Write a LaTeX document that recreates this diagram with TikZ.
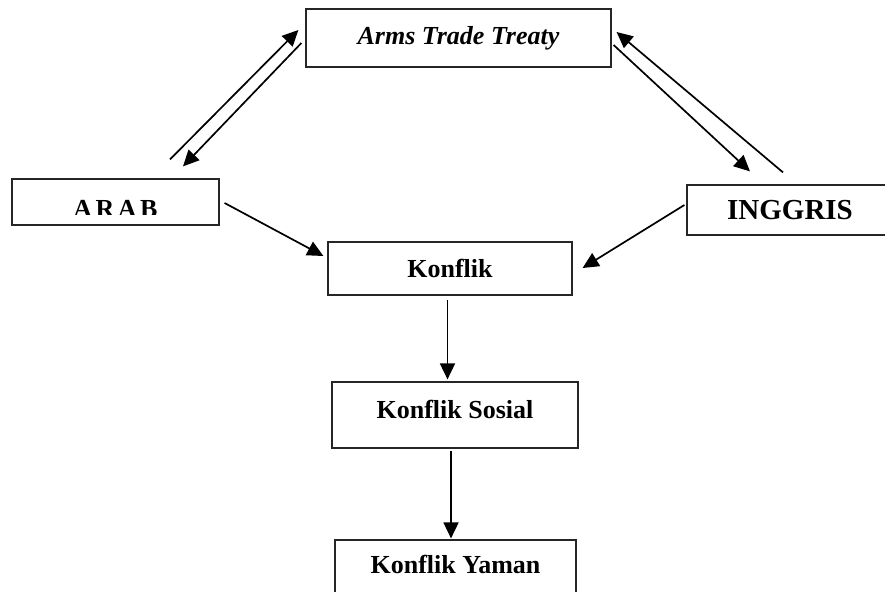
\documentclass[tikz,border=0pt]{standalone}
\usepackage{fontspec}
\setmainfont{Liberation Serif}
\usetikzlibrary{arrows.meta}

\tikzset{
    box/.style={draw=black!85, line width=1.2pt, inner sep=0pt,
        font=\fontsize{26}{30}\selectfont\bfseries},
    arr/.style={line width=1.7pt, -{Triangle[length=16pt, width=15pt]}},
}

\begin{document}
\begin{tikzpicture}[x=1pt, y=-1pt]
    \clip (0, 0) rectangle (885, 591);

    % kotak
    \node[box, minimum width=305, minimum height=58, font=\fontsize{26}{30}\selectfont\bfseries\itshape]
        (att) at (458.5, 38) {Arms Trade Treaty};
    \node[box, minimum width=207, minimum height=46] (arab) at (115.5, 202) {};
    \begin{scope}
        \clip (12, 179) rectangle (219, 214);
        \node[box, draw=none, text height=30pt, text depth=0pt] (arabtxt) at (arab) {A\kern3.5pt R\kern3.5pt A\kern3.5pt B};
    \end{scope}
    \node[box, minimum width=206, minimum height=50, font=\fontsize{29}{33}\selectfont\bfseries]
        (inggris) at (790, 210) {INGGRIS};
    \node[box, minimum width=244, minimum height=53] (konflik) at (450, 268.5) {Konflik};
    \node[box, minimum width=246, minimum height=66, text depth=12pt] (sosial) at (455, 415) {Konflik Sosial};
    \node[box, minimum width=241, minimum height=80, text depth=32pt] (yaman) at (455.5, 580) {Konflik Yaman};

    % panah ATT
    \draw[arr] ([shift={(54.5,-19)}]arab.north) -- ([shift={(-7,-8)}]att.west);
    \draw[arr] ([shift={(-4,5)}]att.west) -- ([shift={(67.5,-12)}]arab.north);
    \draw[arr] ([shift={(-7,-12)}]inggris.north) -- ([shift={(5,-6)}]att.east);
    \draw[arr] ([shift={(2,7)}]att.east) -- ([shift={(-40,-13)}]inggris.north);

    % panah ke konflik
    \draw[arr] ([shift={(5,1)}]arab.east) -- ([shift={(-4,-12.5)}]konflik.west);
    \draw[arr] ([shift={(-2,-5)}]inggris.west) -- ([shift={(10,-0.5)}]konflik.east);
    \draw[arr] ([shift={(-2.5,4)}]konflik.south) -- ([shift={(-7.5,-2)}]sosial.north);
    \draw[arr] ([shift={(-4,2)}]sosial.south) -- ([shift={(-4.5,-1)}]yaman.north);
\end{tikzpicture}
\end{document}
